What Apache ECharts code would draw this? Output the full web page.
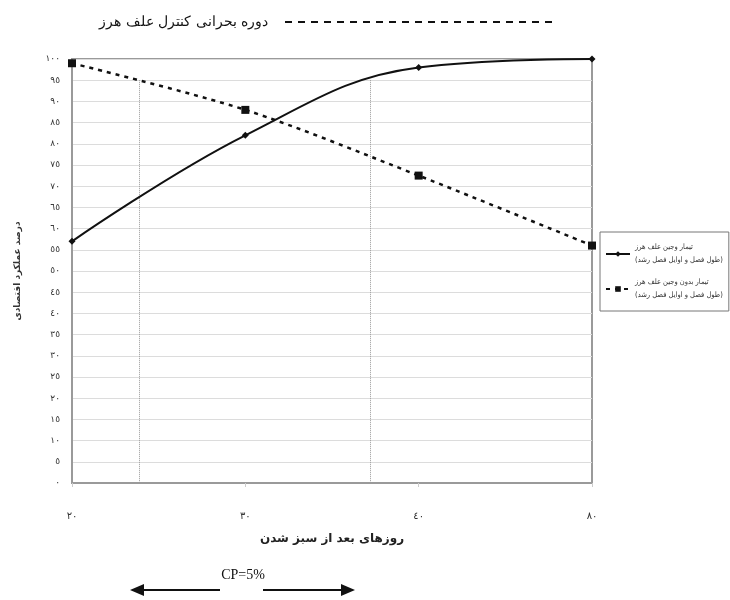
<!DOCTYPE html>
<html>
<head>
<meta charset="utf-8">
<script src="https://cdn.jsdelivr.net/npm/echarts@6/dist/echarts.min.js"></script>
<style>
html,body{margin:0;padding:0;background:#fff;}
#chart{width:730px;height:600px;}
</style>
</head>
<body>
<div id="chart"></div>
<script>
// ---- data ----
const xCategories = ['٢٠', '٣٠', '٤٠', '٨٠'];
const weededValues = [57, 82, 98, 100];
const weedyValues = [99, 88, 72.5, 56];
const cpBounds = [0.39, 1.72];   // category-index positions of critical period limits
const cpLevel = 95;
const seriesNames = [
  'تیمار وجین علف هرز\n(طول فصل و اوایل فصل رشد)',
  'تیمار بدون وجین علف هرز\n(طول فصل و اوایل فصل رشد)'
];
const xTitle = 'روزهای بعد از سبز شدن';
const yTitle = 'درصد عملکرد اقتصادی';
const topText = 'دوره بحرانی کنترل علف هرز';
const cpText = 'CP=5%';

const RLM = '\u200F';
const rtl = s => s.split('\n').map(l => RLM + l + RLM).join('\n');
const arabicDigits = s => String(s).replace(/[0-9]/g, d => '٠١٢٣٤٥٦٧٨٩'[+d]);

const chart = echarts.init(document.getElementById('chart'), null, {renderer: 'canvas'});

const markLineData = cpBounds.map(x => [
  {coord: [x, cpLevel]},
  {coord: [x, 0]}
]);

chart.setOption({
  backgroundColor: '#fff',
  animation: false,
  textStyle: {fontFamily: 'DejaVu Sans'},
  grid: {
    left: 72, right: 138, top: 59, bottom: 117,
    show: true, borderColor: '#9a9a9a', borderWidth: 2, backgroundColor: 'transparent'
  },
  legend: {
    orient: 'vertical',
    left: 600, top: 232,
    padding: [9, 6, 9, 5],
    itemGap: 9,
    itemWidth: 24, itemHeight: 7,
    borderColor: '#777', borderWidth: 1,
    formatter: n => rtl(n),
    textStyle: {fontSize: 7.5, color: '#333', lineHeight: 13, fontFamily: 'DejaVu Sans Condensed'},
    data: seriesNames
  },
  xAxis: [{
    type: 'category',
    data: xCategories,
    boundaryGap: false,
    axisLine: {lineStyle: {color: '#9a9a9a', width: 2}},
    axisTick: {show: true, length: 4, lineStyle: {color: '#ccc'}},
    axisLabel: {margin: 28, fontSize: 10, color: '#333', fontFamily: 'DejaVu Sans'},
    splitLine: {show: false},
    name: rtl(xTitle),
    nameLocation: 'middle',
    nameGap: 50,
    nameTextStyle: {fontSize: 12, fontWeight: 'bold', color: '#222'}
  }, {
    type: 'value',
    min: 0, max: 3,
    show: false
  }],
  yAxis: {
    type: 'value',
    min: 0, max: 100, interval: 5,
    axisLine: {show: true, lineStyle: {color: '#9a9a9a', width: 2}},
    axisTick: {show: false},
    axisLabel: {margin: 12, fontSize: 9, color: '#333', formatter: v => arabicDigits(v)},
    splitLine: {lineStyle: {color: '#dcdcdc', width: 1}},
    name: rtl(yTitle),
    nameLocation: 'middle',
    nameRotate: 90,
    nameGap: 50,
    nameTextStyle: {fontSize: 9, fontWeight: 'bold', color: '#333'}
  },
  series: [{
    name: seriesNames[0],
    type: 'line',
    data: weededValues,
    smooth: 0.4,
    symbol: 'diamond',
    symbolSize: 7,
    itemStyle: {color: '#111'},
    lineStyle: {color: '#111', width: 2, type: 'solid'},
    z: 5
  }, {
    name: seriesNames[1],
    type: 'line',
    data: weedyValues,
    smooth: 0.3,
    symbol: 'rect',
    symbolSize: 8,
    itemStyle: {color: '#111'},
    lineStyle: {color: '#111', width: 2.5, type: [4, 5]},
    z: 5
  }, {
    name: 'cp',
    type: 'line',
    xAxisIndex: 1,
    data: [],
    silent: true,
    markLine: {
      silent: true,
      symbol: ['none', 'none'],
      label: {show: false},
      lineStyle: {color: '#999', width: 1, type: [1, 1]},
      data: markLineData
    }
  }],
  graphic: [
    {
      type: 'text',
      x: 268, y: 22,
      style: {text: rtl(topText), align: 'right', verticalAlign: 'middle',
              font: '14px "DejaVu Serif", serif', fill: '#111'}
    },
    {
      type: 'line',
      shape: {x1: 285, y1: 22, x2: 558, y2: 22},
      style: {stroke: '#111', lineWidth: 2, lineDash: [7, 6]}
    },
    {
      type: 'text', x: 243, y: 575,
      style: {text: cpText, align: 'center', verticalAlign: 'middle',
              font: '14px "Liberation Serif", serif', fill: '#111'}
    },
    {
      type: 'line', shape: {x1: 140, y1: 590, x2: 220, y2: 590},
      style: {stroke: '#111', lineWidth: 2}
    },
    {
      type: 'polygon', shape: {points: [[130, 590], [144, 584], [144, 596]]},
      style: {fill: '#111'}
    },
    {
      type: 'line', shape: {x1: 263, y1: 590, x2: 345, y2: 590},
      style: {stroke: '#111', lineWidth: 2}
    },
    {
      type: 'polygon', shape: {points: [[355, 590], [341, 584], [341, 596]]},
      style: {fill: '#111'}
    }
  ]
});
</script>
</body>
</html>
